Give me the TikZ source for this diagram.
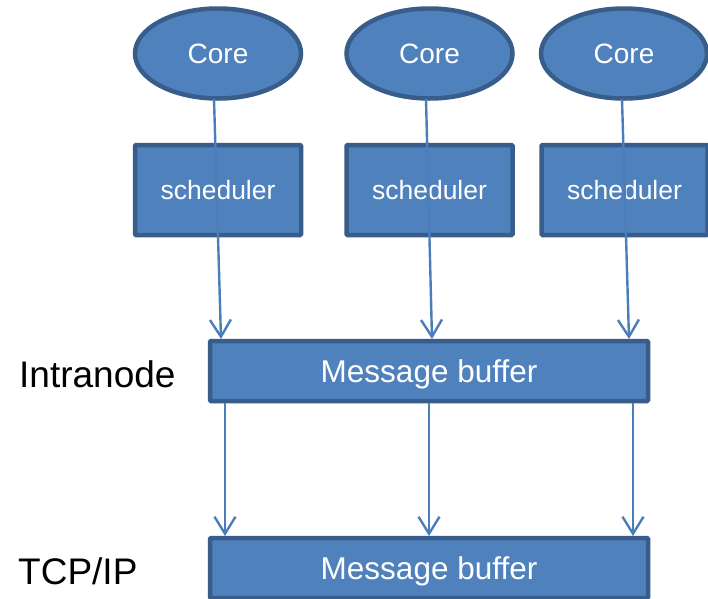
\documentclass[tikz,border=0pt]{standalone}
\usepackage{fontspec}
\setmainfont{Liberation Sans}
\usetikzlibrary{shapes.geometric,arrows.meta}
\definecolor{boxfill}{HTML}{4F81BD}
\definecolor{boxline}{HTML}{385D8A}
\definecolor{arrline}{HTML}{4A7EBB}
\begin{document}
\begin{tikzpicture}[x=1pt,y=-1pt,
  corestyle/.style={ellipse,draw=boxline,fill=boxfill,line width=4.5pt,
    minimum width=166pt,minimum height=90pt,inner sep=0pt,text=white,
    text height=20pt,text depth=0pt,
    font=\fontsize{28}{32}\selectfont},
  schedbox/.style={rectangle,draw=boxline,fill=boxfill,line width=4.5pt,
    rounded corners=1pt,minimum width=166pt,minimum height=90pt,inner sep=0pt,
    text=white,text height=19pt,text depth=0pt,font=\fontsize{26.5}{30}\selectfont},
  bufbox/.style={rectangle,draw=boxline,fill=boxfill,line width=4.5pt,
    rounded corners=1pt,minimum width=438pt,minimum height=60pt,inner sep=0pt,
    text=white,text height=22.5pt,text depth=0pt,font=\fontsize{31.5}{36}\selectfont},
  lbl/.style={anchor=west,inner sep=0pt,text=black,text height=26.5pt,text depth=0pt,
    font=\fontsize{37}{44}\selectfont},
  arr/.style={draw=arrline,line width=2.4pt,-{Straight Barb[length=17pt,width=21pt,line width=2.4pt]}}
]
\useasboundingbox (0,0) rectangle (708,598);
\clip (0,0) rectangle (708,598);
\fill[white] (0,0) rectangle (708,598);

\node[corestyle] (c1) at (218,53.5) {Core};
\node[corestyle] (c2) at (429.5,53.5) {Core};
\node[corestyle] (c3) at (624,53.5) {Core};

\node[schedbox] (s1) at (218,190) {scheduler};
\node[schedbox] (s2) at (429.5,190) {scheduler};
\node[schedbox] (s3) at (624.5,190) {scheduler};

\node[bufbox] (m1) at (429,371) {Message buffer};
\node[bufbox] (m2) at (429,568) {Message buffer};

\node[lbl] (l1) at (19,374.5) {Intranode};
\node[lbl] (l2) at (18,571.5) {TCP/IP};

% connector end points
\coordinate (a1s) at (214,99);
\coordinate (a2s) at (426,99);
\coordinate (a3s) at (622,99);
\coordinate (a1e) at (221,339);
\coordinate (a2e) at (432,339);
\coordinate (a3e) at (629,339);
\coordinate (b1s) at (225,403);
\coordinate (b2s) at (429,403);
\coordinate (b3s) at (633,403);
\coordinate (b1e) at (225,536);
\coordinate (b2e) at (429,536);
\coordinate (b3e) at (633,536);

\draw[arr] (a1s) -- (a1e);
\draw[arr] (a2s) -- (a2e);
\draw[arr] (a3s) -- (a3e);
\draw[arr] (b1s) -- (b1e);
\draw[arr] (b2s) -- (b2e);
\draw[arr] (b3s) -- (b3e);
\end{tikzpicture}
\end{document}
